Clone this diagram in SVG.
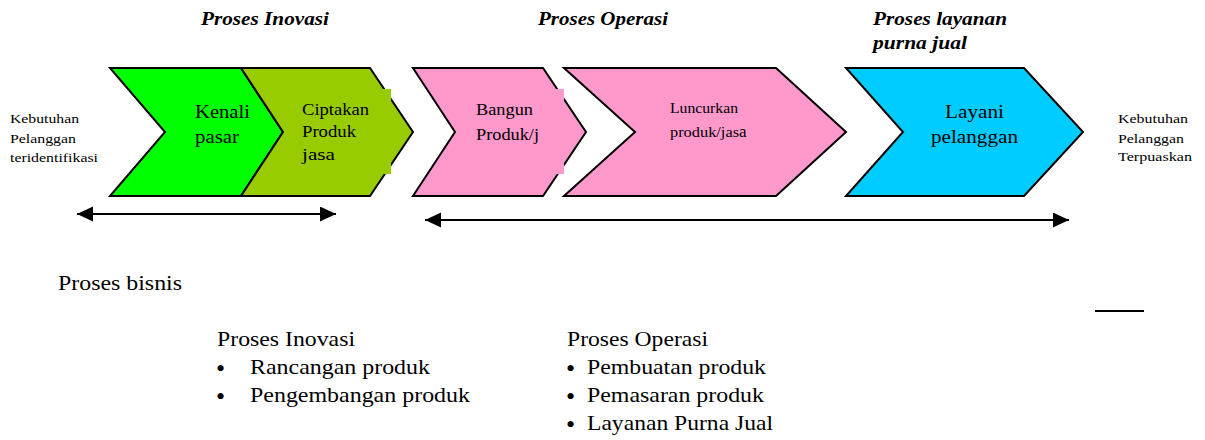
<svg xmlns="http://www.w3.org/2000/svg" width="1205" height="440" viewBox="0 0 1205 440">
<style>
.chev{stroke:#000;stroke-width:2;stroke-linejoin:miter}
.t{font-family:"Liberation Serif","Times New Roman",Times,serif;fill:#000}
.h{font-family:"Liberation Serif","Times New Roman",Times,serif;font-weight:bold;font-style:italic;font-size:19px;fill:#000}
.bul{font-size:26px}
.conn{stroke:#000;stroke-width:2.2;fill:none}
</style>
<defs>
<marker id="ah" markerUnits="userSpaceOnUse" markerWidth="18" markerHeight="16" refX="16" refY="7.5" orient="auto-start-reverse">
<path d="M0,0 L16,7.5 L0,15 Z" fill="#000"/>
</marker>
</defs>
<rect width="1205" height="440" fill="#fff"/>

<g id="headings">
<text class="h" x="201" y="25" textLength="128" lengthAdjust="spacingAndGlyphs">Proses Inovasi</text>
<text class="h" x="538" y="25" textLength="130" lengthAdjust="spacingAndGlyphs">Proses Operasi</text>
<text class="h" x="873" y="25" textLength="134" lengthAdjust="spacingAndGlyphs">Proses layanan</text>
<text class="h" x="873" y="49" textLength="94" lengthAdjust="spacingAndGlyphs">purna jual</text>
</g>

<g id="start-label">
<text class="t" font-size="13.5" x="10" y="123" textLength="69" lengthAdjust="spacingAndGlyphs">Kebutuhan</text>
<text class="t" font-size="13.5" x="10" y="143" textLength="66" lengthAdjust="spacingAndGlyphs">Pelanggan</text>
<text class="t" font-size="13.5" x="10" y="162" textLength="88" lengthAdjust="spacingAndGlyphs">teridentifikasi</text>
</g>

<g id="kenali-pasar">
<polygon class="chev" fill="#00ff00" points="110,68 241,68 283,132 241,196 110,196 165,132"/>
<text class="t" font-size="18" x="195" y="118" textLength="55" lengthAdjust="spacingAndGlyphs">Kenali</text>
<text class="t" font-size="18" x="195" y="143" textLength="44" lengthAdjust="spacingAndGlyphs">pasar</text>
</g>

<g id="ciptakan-produk">
<polygon class="chev" fill="#99cc00" points="241,68 370,68 413,132 370,196 241,196 283,132"/>
<rect x="296" y="89" width="95" height="85" fill="#99cc00"/>
<text class="t" font-size="16.5" x="302" y="115" textLength="67" lengthAdjust="spacingAndGlyphs">Ciptakan</text>
<text class="t" font-size="16.5" x="302" y="137" textLength="54" lengthAdjust="spacingAndGlyphs">Produk</text>
<text class="t" font-size="16.5" x="302" y="160" textLength="33" lengthAdjust="spacingAndGlyphs">jasa</text>
</g>

<g id="bangun-produk">
<polygon class="chev" fill="#ff99cc" points="413,68 543,68 586,132 543,196 413,196 455,132"/>
<rect x="470" y="89" width="94" height="85" fill="#ff99cc"/>
<text class="t" font-size="16" x="476" y="115" textLength="57" lengthAdjust="spacingAndGlyphs">Bangun</text>
<text class="t" font-size="16" x="476" y="140" textLength="63" lengthAdjust="spacingAndGlyphs">Produk/j</text>
</g>

<g id="luncurkan-produk">
<polygon class="chev" fill="#ff99cc" points="564,68 776,68 846,132 776,196 564,196 635,132"/>
<text class="t" font-size="14" x="670" y="113" textLength="68" lengthAdjust="spacingAndGlyphs">Luncurkan</text>
<text class="t" font-size="14" x="670" y="137"><tspan textLength="69" lengthAdjust="spacingAndGlyphs">produk/jas</tspan><tspan font-size="17">a</tspan></text>
</g>

<g id="layani-pelanggan">
<polygon class="chev" fill="#00ccff" points="846,68 1024,68 1083,132 1024,196 846,196 903,132"/>
<text class="t" font-size="19" x="945" y="118" textLength="59" lengthAdjust="spacingAndGlyphs">Layani</text>
<text class="t" font-size="19" x="931" y="143" textLength="87" lengthAdjust="spacingAndGlyphs">pelanggan</text>
</g>

<g id="end-label">
<text class="t" font-size="13.5" x="1118" y="123" textLength="70" lengthAdjust="spacingAndGlyphs">Kebutuhan</text>
<text class="t" font-size="13.5" x="1118" y="143" textLength="66" lengthAdjust="spacingAndGlyphs">Pelanggan</text>
<text class="t" font-size="13.5" x="1118" y="161" textLength="74" lengthAdjust="spacingAndGlyphs">Terpuaskan</text>
</g>

<g id="connectors">
<line class="conn" x1="77" y1="214" x2="336" y2="214" marker-start="url(#ah)" marker-end="url(#ah)"/>
<line class="conn" x1="425" y1="220" x2="1069" y2="220" marker-start="url(#ah)" marker-end="url(#ah)"/>
<line class="conn" x1="1095" y1="311" x2="1144" y2="311"/>
</g>

<g id="legend">
<text class="t" font-size="21" x="58" y="290" textLength="124" lengthAdjust="spacingAndGlyphs">Proses bisnis</text>
<text class="t" font-size="21" x="217" y="346" textLength="138" lengthAdjust="spacingAndGlyphs">Proses Inovasi</text>
<text class="t" font-size="21" x="216" y="374"><tspan class="bul" dy="3">•</tspan><tspan x="250" dy="-3" textLength="180" lengthAdjust="spacingAndGlyphs">Rancangan produk</tspan></text>
<text class="t" font-size="21" x="216" y="402"><tspan class="bul" dy="3">•</tspan><tspan x="250" dy="-3" textLength="220" lengthAdjust="spacingAndGlyphs">Pengembangan produk</tspan></text>
<text class="t" font-size="21" x="567" y="346" textLength="141" lengthAdjust="spacingAndGlyphs">Proses Operasi</text>
<text class="t" font-size="21" x="566" y="374"><tspan class="bul" dy="3">•</tspan><tspan x="587" dy="-3" textLength="179" lengthAdjust="spacingAndGlyphs">Pembuatan produk</tspan></text>
<text class="t" font-size="21" x="566" y="402"><tspan class="bul" dy="3">•</tspan><tspan x="587" dy="-3" textLength="177" lengthAdjust="spacingAndGlyphs">Pemasaran produk</tspan></text>
<text class="t" font-size="21" x="566" y="430"><tspan class="bul" dy="3">•</tspan><tspan x="587" dy="-3" textLength="186" lengthAdjust="spacingAndGlyphs">Layanan Purna Jual</tspan></text>
</g>
</svg>
